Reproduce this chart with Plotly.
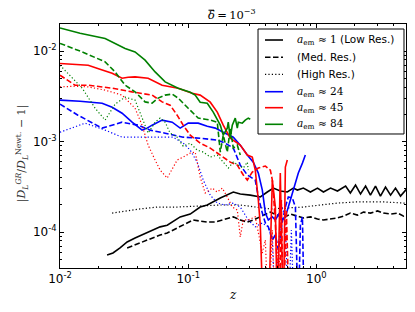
import plotly.graph_objects as go

# ---------------- data ----------------
# black: a_em ~ 1
z_k1 = [0.0233, 0.0259, 0.0294, 0.0334, 0.0385, 0.0478, 0.0604, 0.0686, 0.0866, 0.1037, 0.124, 0.1408, 0.178, 0.2249,
        0.2548, 0.3049, 0.3652, 0.414, 0.4617, 0.523, 0.593, 0.661, 0.711, 0.791, 0.898, 1.02, 1.135, 1.29, 1.46,
        1.69, 1.84, 2.02, 2.21, 2.42, 2.64, 2.89, 3.16, 3.46, 3.79, 4.14, 4.53, 5.05]
v_k1 = [5.57e-5, 5.86e-5, 6.66e-5, 7.76e-5, 8.59e-5, 9.75e-5, 1.14e-4, 1.19e-4, 1.47e-4, 1.58e-4, 1.89e-4, 1.99e-4, 2.38e-4, 2.77e-4,
        2.63e-4, 2.56e-4, 2.44e-4, 2.77e-4, 3.06e-4, 2.84e-4, 2.77e-4, 3.06e-4, 2.91e-4, 3.06e-4, 2.77e-4, 3.06e-4, 2.77e-4, 3.06e-4, 2.84e-4,
        3.22e-4, 2.70e-4, 3.31e-4, 2.63e-4, 3.22e-4, 2.56e-4, 3.22e-4, 2.50e-4, 3.14e-4, 2.56e-4, 3.06e-4, 2.50e-4, 2.99e-4]

z_k2 = [0.0334, 0.040, 0.0478, 0.0604, 0.0686, 0.0866, 0.0982, 0.1094, 0.124, 0.1408, 0.1626, 0.1877, 0.2249, 0.2548,
        0.2891, 0.3219, 0.3652, 0.400, 0.4375, 0.496, 0.552, 0.626, 0.711, 0.791, 0.898, 1.02, 1.135, 1.29, 1.46,
        1.63, 1.84, 2.09, 2.33, 2.64, 3.0, 3.33, 3.79, 4.30, 4.79, 5.05]
v_k2 = [6.66e-5, 7.36e-5, 8.16e-5, 9.27e-5, 9.75e-5, 1.14e-4, 1.26e-4, 1.36e-4, 1.32e-4, 1.29e-4, 1.29e-4, 1.36e-4, 1.47e-4, 1.36e-4,
        1.29e-4, 1.36e-4, 1.47e-4, 1.58e-4, 1.66e-4, 1.54e-4, 1.43e-4, 1.58e-4, 1.50e-4, 1.43e-4, 1.47e-4, 1.39e-4, 1.36e-4, 1.39e-4, 1.43e-4,
        1.50e-4, 1.62e-4, 1.54e-4, 1.66e-4, 1.62e-4, 1.71e-4, 1.62e-4, 1.58e-4, 1.62e-4, 1.50e-4, 1.54e-4]

z_k3 = [0.0255, 0.0322, 0.0422, 0.0573, 0.082, 0.124, 0.178, 0.2548, 0.3336, 0.4375, 0.5727, 0.791, 1.075, 1.46, 2.02, 2.64, 3.46, 4.79, 5.05]
v_k3 = [1.62e-4, 1.71e-4, 1.80e-4, 1.89e-4, 1.89e-4, 1.94e-4, 1.99e-4, 1.99e-4, 1.89e-4, 1.80e-4, 1.84e-4, 1.89e-4, 1.99e-4, 2.09e-4, 2.15e-4, 2.15e-4, 2.15e-4, 2.09e-4, 2.09e-4]

# blue: a_em ~ 24
z_b1 = [0.01, 0.01433, 0.0213, 0.0255, 0.0305, 0.0365, 0.0437, 0.0478, 0.0523, 0.0626, 0.075, 0.0866, 0.1, 0.1197, 0.1408,
        0.1626, 0.1877, 0.2249, 0.2548, 0.2891, 0.3219, 0.3524, 0.3786, 0.4, 0.4217, 0.4532, 0.4786, 0.514, 0.542, 0.5727,
        0.604, 0.649, 0.686, 0.723, 0.778, 0.820]
v_b1 = [2.88e-3, 2.80e-3, 2.66e-3, 2.40e-3, 2.06e-3, 1.64e-3, 1.34e-3, 1.41e-3, 1.52e-3, 1.73e-3, 1.64e-3, 1.41e-3, 1.60e-3, 1.60e-3, 1.48e-3,
        1.41e-3, 1.27e-3, 1.12e-3, 9.14e-4, 7.10e-4, 5.93e-4, 4.49e-4, 2.91e-4, 1.62e-4, 1.36e-4, 1.47e-4, 1.36e-4, 1.62e-4, 1.36e-4, 1.47e-4,
        1.89e-4, 2.70e-4, 3.48e-4, 4.49e-4, 5.78e-4, 7.10e-4]

z_b2 = [0.01, 0.0138, 0.0213, 0.0305, 0.0407, 0.0505, 0.0661, 0.0914, 0.124, 0.1686, 0.1945, 0.2249, 0.2548, 0.2891, 0.3336,
        0.3524, 0.3786, 0.4, 0.4217, 0.4532, 0.4786, 0.505, 0.542, 0.5727, 0.604, 0.649, 0.686, 0.723, 0.75, 0.778, 0.805]
v_b2 = [2.60e-3, 1.96e-3, 1.41e-3, 1.64e-3, 1.52e-3, 1.34e-3, 1.24e-3, 1.12e-3, 1.09e-3, 1.04e-3, 9.62e-4, 8.48e-4, 5.50e-4, 4.27e-4, 3.76e-4,
        2.44e-4, 1.62e-4, 1.26e-4, 1.14e-4, 8.16e-5, 9.27e-5, 6.33e-5, 1.29e-4, 1.89e-4, 2.44e-4, 2.38e-4, 1.89e-4, 1.0e-5, 1.19e-4, 1.47e-4, 1.0e-5]

z_b3 = [0.01, 0.0124, 0.0157, 0.0225, 0.0305, 0.0422, 0.0552, 0.0763, 0.0914, 0.1037, 0.1175, 0.131, 0.1486, 0.1686, 0.1945,
        0.2249, 0.2548, 0.2942, 0.3336, 0.3786, 0.4217, 0.4532, 0.4786, 0.523, 0.542, 0.5727, 0.604, 0.638, 0.673]
v_b3 = [1.27e-3, 1.41e-3, 1.60e-3, 1.34e-3, 1.12e-3, 1.12e-3, 1.12e-3, 1.12e-3, 9.62e-4, 8.05e-4, 5.93e-4, 3.76e-4, 2.56e-4, 2.09e-4, 1.99e-4,
        2.09e-4, 1.89e-4, 1.36e-4, 1.14e-4, 1.26e-4, 1.14e-4, 8.16e-5, 1.0e-5, 1.54e-4, 1.89e-4, 1.36e-4, 1.0e-5, 1.05e-4, 1.0e-5]

# red: a_em ~ 45
z_r1 = [0.01, 0.0131, 0.0166, 0.0205, 0.0255, 0.0305, 0.034, 0.0385, 0.0487, 0.0626, 0.0835, 0.1075, 0.124, 0.1486, 0.1686,
        0.1877, 0.2129, 0.2548, 0.2891, 0.3162, 0.3336, 0.3524, 0.3652, 0.3855, 0.4217, 0.4532, 0.4786, 0.496, 0.523, 0.552,
        0.5727, 0.593]
v_r1 = [7.31e-3, 7.19e-3, 7.00e-3, 6.33e-3, 5.71e-3, 5.03e-3, 5.16e-3, 5.20e-3, 5.03e-3, 4.21e-3, 3.90e-3, 3.43e-3, 3.27e-3, 2.73e-3, 2.12e-3,
        1.52e-3, 1.09e-3, 9.14e-4, 7.10e-4, 6.75e-4, 4.84e-4, 2.26e-4, 1.19e-4, 1.0e-5, 1.0e-5, 3.76e-4, 1.89e-4, 1.0e-5, 4.49e-4, 1.0e-5,
        5.23e-4, 6.25e-4]

z_r2 = [0.01, 0.0131, 0.0166, 0.0255, 0.0365, 0.0523, 0.0626, 0.0723, 0.082, 0.0914, 0.1037, 0.124, 0.1486, 0.1877, 0.2129,
        0.2416, 0.269, 0.2891, 0.3162, 0.3524, 0.400, 0.4375, 0.4532, 0.4617, 0.4786, 0.514, 0.533, 0.552, 0.583, 0.615]
v_r2 = [5.43e-3, 4.21e-3, 4.21e-3, 3.90e-3, 3.55e-3, 3.27e-3, 2.75e-3, 2.53e-3, 1.96e-3, 1.52e-3, 1.18e-3, 9.62e-4, 8.48e-4, 6.75e-4, 5.93e-4,
        5.50e-4, 4.27e-4, 3.76e-4, 4.60e-4, 5.10e-4, 5.36e-4, 4.84e-4, 3.76e-4, 2.70e-4, 1.26e-4, 1.0e-5, 2.26e-4, 1.0e-5, 1.75e-4, 1.0e-5]

z_r3 = [0.01, 0.0131, 0.0166, 0.0225, 0.0305, 0.0385, 0.0437, 0.0487, 0.0552, 0.0604, 0.0686, 0.0763, 0.082, 0.0914, 0.1037,
        0.1134, 0.124, 0.1358, 0.154, 0.1686, 0.1845, 0.2017, 0.2208, 0.2416, 0.2548, 0.269, 0.2942, 0.3336, 0.3524, 0.3786,
        0.400, 0.4217, 0.4532, 0.4786, 0.505, 0.542]
v_r3 = [4.03e-3, 4.10e-3, 4.03e-3, 3.71e-3, 3.27e-3, 2.34e-3, 1.52e-3, 9.14e-4, 6.25e-4, 4.84e-4, 3.95e-4, 5.23e-4, 6.25e-4, 6.75e-4, 7.47e-4,
        7.66e-4, 4.06e-4, 2.70e-4, 3.06e-4, 2.77e-4, 3.06e-4, 2.44e-4, 1.89e-4, 1.75e-4, 8.81e-5, 1.36e-4, 1.36e-4, 1.47e-4, 9.75e-5, 5.86e-5,
        8.16e-5, 1.0e-5, 1.05e-4, 1.0e-5, 8.16e-5, 1.0e-5]

# green: a_em ~ 84
z_g1 = [0.01, 0.01433, 0.0225, 0.0322, 0.0385, 0.0461, 0.0552, 0.0661, 0.0835, 0.1037, 0.1134, 0.124, 0.1408, 0.1568, 0.178,
        0.1877, 0.2017, 0.2054, 0.2129, 0.2208, 0.2329, 0.2416, 0.246, 0.2642, 0.2788, 0.2942, 0.3049]
v_g1 = [1.81e-2, 1.58e-2, 1.38e-2, 1.07e-2, 9.82e-3, 7.96e-3, 5.90e-3, 4.58e-3, 3.90e-3, 3.52e-3, 3.27e-3, 2.73e-3, 2.66e-3, 2.12e-3, 1.52e-3,
        1.18e-3, 1.41e-3, 1.64e-3, 1.09e-3, 1.52e-3, 1.82e-3, 1.41e-3, 1.64e-3, 1.60e-3, 1.73e-3, 1.82e-3, 1.77e-3]

z_g2 = [0.01, 0.0149, 0.0225, 0.0269, 0.0322, 0.0385, 0.0461, 0.0523, 0.0583, 0.0661, 0.075, 0.0835, 0.1, 0.1197, 0.1358,
        0.1486, 0.1686, 0.178, 0.1877, 0.2017, 0.2129, 0.2249, 0.2416, 0.2548]
v_g2 = [1.22e-2, 9.82e-3, 7.62e-3, 5.90e-3, 4.21e-3, 3.55e-3, 2.75e-3, 2.66e-3, 3.03e-3, 3.27e-3, 3.35e-3, 3.03e-3, 2.34e-3, 1.82e-3, 1.77e-3,
        1.73e-3, 1.64e-3, 7.66e-4, 1.18e-3, 7.66e-4, 1.41e-3, 8.48e-4, 9.14e-4, 7.10e-4]

z_g3 = [0.01, 0.0124, 0.0149, 0.0188, 0.0225, 0.0269, 0.0322, 0.0385, 0.0437, 0.0487, 0.0552, 0.0604, 0.0661, 0.0723, 0.082,
        0.0914, 0.1037, 0.1175, 0.131, 0.1486, 0.1686, 0.1877, 0.2054, 0.2249, 0.246, 0.269, 0.2891, 0.2942]
v_g3 = [7.00e-3, 5.03e-3, 3.90e-3, 2.34e-3, 1.73e-3, 2.60e-3, 3.10e-3, 2.88e-3, 1.82e-3, 1.24e-3, 1.64e-3, 1.82e-3, 1.64e-3, 1.24e-3, 1.12e-3,
        8.91e-4, 9.62e-4, 8.05e-4, 7.66e-4, 6.75e-4, 7.10e-4, 5.93e-4, 5.10e-4, 5.93e-4, 5.50e-4, 5.10e-4, 5.93e-4, 4.84e-4]

x_tickvals = [0.01, 0.1, 1]
x_ticktext = ["10<sup>-2</sup>", "10<sup>-1</sup>", "10<sup>0</sup>"]
y_tickvals = [1e-4, 1e-3, 1e-2]
y_ticktext = ["10<sup>-4</sup>", "10<sup>-3</sup>", "10<sup>-2</sup>"]
x_minor = [0.02, 0.03, 0.04, 0.05, 0.06, 0.07, 0.08, 0.09, 0.2, 0.3, 0.4, 0.5, 0.6, 0.7, 0.8, 0.9, 2, 3, 4, 5]
y_minor = [5e-5, 6e-5, 7e-5, 8e-5, 9e-5, 2e-4, 3e-4, 4e-4, 5e-4, 6e-4, 7e-4, 8e-4, 9e-4,
           2e-3, 3e-3, 4e-3, 5e-3, 6e-3, 7e-3, 8e-3, 9e-3]

SERIF = "font-family:'DejaVu Serif'"
def math(s):
    return f"<span style=\"{SERIF}\">{s}</span>"

AEM = math("<i>a</i><sub>em</sub>")
legend_labels = [
    AEM + math(" ≈ 1") + " (Low Res.)",
    "(Med. Res.)",
    "(High Res.)",
    AEM + math(" ≈ 24"),
    AEM + math(" ≈ 45"),
    AEM + math(" ≈ 84"),
]

BLACK, BLUE, RED, GREEN = "#000000", "#0000ff", "#ff0000", "#008000"
DASH = "5.5px,2.5px"
DOT = "1.2px,2.2px"

series = [
    # (name, x, y, color, dash, width)
    ("k1", z_k1, v_k1, BLACK, "solid", 1.6),
    ("k2", z_k2, v_k2, BLACK, DASH, 1.6),
    ("k3", z_k3, v_k3, BLACK, DOT, 1.2),
    ("b1", z_b1, v_b1, BLUE, "solid", 1.6),
    ("b2", z_b2, v_b2, BLUE, DASH, 1.6),
    ("b3", z_b3, v_b3, BLUE, DOT, 1.2),
    ("r1", z_r1, v_r1, RED, "solid", 1.6),
    ("r2", z_r2, v_r2, RED, DASH, 1.6),
    ("r3", z_r3, v_r3, RED, DOT, 1.2),
    ("g1", z_g1, v_g1, GREEN, "solid", 1.6),
    ("g2", z_g2, v_g2, GREEN, DASH, 1.6),
    ("g3", z_g3, v_g3, GREEN, DOT, 1.2),
]
legend_keys = [("k1", BLACK, "solid", 1.6), ("k2", BLACK, DASH, 1.6), ("k3", BLACK, DOT, 1.2),
               ("b1", BLUE, "solid", 1.6), ("r1", RED, "solid", 1.6), ("g1", GREEN, "solid", 1.6)]

fig = go.Figure()
for key, xs, ys, col, dash, w in series:
    fig.add_trace(go.Scatter(
        x=xs, y=ys, mode="lines",
        line=dict(color=col, dash=dash, width=w),
        name=key, showlegend=False,
    ))

axis_common = dict(
    type="log", showgrid=False, zeroline=False,
    showline=True, linecolor="black", linewidth=1, mirror="allticks",
    ticks="inside", ticklen=4, tickwidth=1, tickcolor="black",
    tickfont=dict(family="DejaVu Sans", size=12, color="black"),
)

fig.update_xaxes(
    **axis_common, range=[-2, 0.699],
    tickmode="array", tickvals=x_tickvals, ticktext=x_ticktext,
    minor=dict(ticks="inside", ticklen=2, tickwidth=1, tickcolor="black", tickvals=x_minor),
)
fig.update_yaxes(
    **axis_common, range=[-4.398, -1.699],
    tickmode="array", tickvals=y_tickvals, ticktext=y_ticktext,
    minor=dict(ticks="inside", ticklen=2, tickwidth=1, tickcolor="black", tickvals=y_minor),
)

# ---- legend box drawn in paper coordinates (upper right) ----
box = dict(x0=0.5723, x1=0.9942, y0=0.5492, y1=0.9795)
row_y = [0.9344, 0.8635, 0.7939, 0.7225, 0.6570, 0.5889]
key_x0, key_x1, text_x = 0.5925, 0.6445, 0.6792

shapes = [dict(type="rect", xref="paper", yref="paper", layer="above",
               fillcolor="white", line=dict(color="black", width=1), **box)]
annotations = []
for (key, col, dash, w), lab, ry in zip(legend_keys, legend_labels, row_y):
    shapes.append(dict(type="line", xref="paper", yref="paper", layer="above",
                       x0=key_x0, x1=key_x1, y0=ry, y1=ry,
                       line=dict(color=col, dash=dash, width=w)))
    annotations.append(dict(text=lab, x=text_x, y=ry, xref="paper", yref="paper",
                            xanchor="left", yanchor="middle", showarrow=False,
                            font=dict(family="DejaVu Sans", size=10.5, color="black")))

# ---- title: delta-bar = 10^-3 (bar drawn as a short line over the delta) ----
title_x, title_y = 0.4220, 1.0369
annotations.append(dict(text="<i>δ</i>\u2009=\u200910<sup>−3</sup>", x=title_x, y=title_y,
                        xref="paper", yref="paper", xanchor="left", yanchor="middle",
                        showarrow=False,
                        font=dict(family="DejaVu Serif", size=11.5, color="black")))
shapes.append(dict(type="line", xref="paper", yref="paper", layer="above",
                   x0=0.4292, x1=0.4451, y0=1.0566, y1=1.0566,
                   line=dict(color="black", width=1)))

annotations += [
    dict(text="<i>z</i>", x=0.5, y=-0.11, xref="paper", yref="paper",
         xanchor="center", yanchor="middle", showarrow=False,
         font=dict(family="DejaVu Serif", size=12, color="black")),
    dict(text="|<i>D</i><sub><i>L</i></sub><sup><i>GR</i></sup>/<i>D</i><sub><i>L</i></sub><sup>Newt.</sup> − 1|",
         x=-0.11, y=0.47, xref="paper", yref="paper", textangle=-90,
         xanchor="center", yanchor="middle", showarrow=False,
         font=dict(family="DejaVu Serif", size=11, color="#333333")),
]

fig.update_layout(
    width=415, height=312, autosize=False,
    margin=dict(l=60, r=9, t=24, b=44),
    paper_bgcolor="white", plot_bgcolor="white",
    font=dict(family="DejaVu Sans", size=12, color="black"),
    showlegend=False,
    shapes=shapes,
    annotations=annotations,
)

fig.write_html("out.html", config={"displayModeBar": False},
               post_script="document.body.style.margin='0px';")
